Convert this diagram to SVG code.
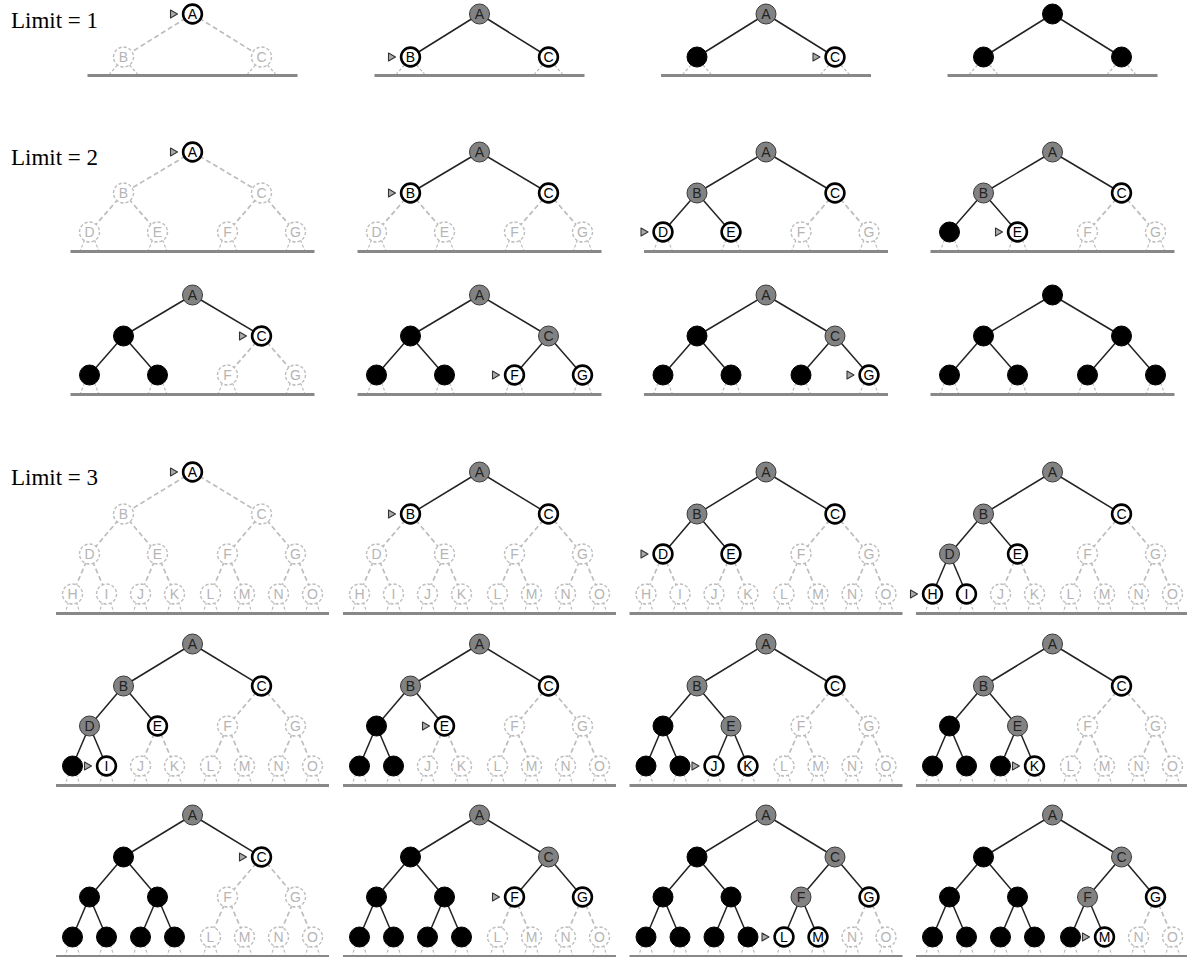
<svg xmlns="http://www.w3.org/2000/svg" xmlns:xlink="http://www.w3.org/1999/xlink" width="1187" height="957" viewBox="0 0 1187 957">
<style>
.lbl{font-family:"Liberation Serif","Times New Roman",serif;font-size:23px;fill:#000}
.n text{font-family:"Liberation Sans",Arial,sans-serif;font-size:14px;text-anchor:middle;dominant-baseline:central}
.u circle{fill:#fff;stroke:#bdbdbd;stroke-width:1.4;stroke-dasharray:3.2 2}
.u text{fill:#b5b5b5}
.f circle{fill:#fff;stroke:#000;stroke-width:2.6;r:9.4px}
.f text{fill:#000}
.g circle{fill:#828282;stroke:#3a3a3a;stroke-width:1}
.g text{fill:#222}
.b circle{fill:#000;stroke:#000;stroke-width:1}
.s{stroke:#222;stroke-width:1.5}
.d{stroke:#bdbdbd;stroke-width:1.7;stroke-dasharray:5 3}
.base{stroke:#888;stroke-width:3}
.stub{fill:none;stroke:#bdbdbd;stroke-width:1.2;stroke-dasharray:3 2}
.mk{fill:#aaa;stroke:#333;stroke-width:1.1;stroke-linejoin:round}
</style>
<defs>
<g id="gr1">
<path class="stub" d="M-75,51L-83,60M-63,51L-55,60M63,51L55,60M75,51L83,60"/>
<line class="base" x1="-105" y1="61.5" x2="105" y2="61.5"/>
</g>
<g id="gr2">
<path class="stub" d="M-108,88L-112,98M-98,88L-94,98M-40,88L-44,98M-30,88L-26,98M30,88L26,98M40,88L44,98M98,88L94,98M108,88L112,98"/>
<line class="base" x1="-122" y1="99.5" x2="122" y2="99.5"/>
</g>
<g id="gr3">
<path class="stub" d="M-124,130L-127,140M-116,130L-113,140M-90,130L-93,140M-82,130L-79,140M-56,130L-59,140M-48,130L-45,140M-22,130L-25,140M-14,130L-11,140M14,130L11,140M22,130L25,140M48,130L45,140M56,130L59,140M82,130L79,140M90,130L93,140M116,130L113,140M124,130L127,140"/>
<line class="base" x1="-136.5" y1="141.5" x2="136.5" y2="141.5"/>
</g>
</defs>

<text class="lbl" x="11" y="28">Limit = 1</text>
<text class="lbl" x="11" y="165">Limit = 2</text>
<text class="lbl" x="11" y="485">Limit = 3</text>

<!-- ===== Limit 1 ===== -->
<g id="l1p1" transform="translate(192.5,14)">
<use href="#gr1"/>
<g class="connectors">
<line class="d" x1="0" y1="0" x2="-69" y2="43"/>
<line class="d" x1="0" y1="0" x2="69" y2="43"/>
</g>
<g id="l1p1-A" class="n f"><circle r="10"/><text>A</text><polygon class="mk" points="-22,-4 -15,0 -22,4"/></g>
<g id="l1p1-B" class="n u" transform="translate(-69,43)"><circle r="10"/><text>B</text></g>
<g id="l1p1-C" class="n u" transform="translate(69,43)"><circle r="10"/><text>C</text></g>
</g>

<g id="l1p2" transform="translate(479.5,14)">
<use href="#gr1"/>
<g class="connectors">
<line class="s" x1="0" y1="0" x2="-69" y2="43"/>
<line class="s" x1="0" y1="0" x2="69" y2="43"/>
</g>
<g id="l1p2-A" class="n g"><circle r="10"/><text>A</text></g>
<g id="l1p2-B" class="n f" transform="translate(-69,43)"><circle r="10"/><text>B</text><polygon class="mk" points="-22,-4 -15,0 -22,4"/></g>
<g id="l1p2-C" class="n f" transform="translate(69,43)"><circle r="10"/><text>C</text></g>
</g>

<g id="l1p3" transform="translate(766,14)">
<use href="#gr1"/>
<g class="connectors">
<line class="s" x1="0" y1="0" x2="-69" y2="43"/>
<line class="s" x1="0" y1="0" x2="69" y2="43"/>
</g>
<g id="l1p3-A" class="n g"><circle r="10"/><text>A</text></g>
<g id="l1p3-B" class="n b" transform="translate(-69,43)"><circle r="10"/></g>
<g id="l1p3-C" class="n f" transform="translate(69,43)"><circle r="10"/><text>C</text><polygon class="mk" points="-22,-4 -15,0 -22,4"/></g>
</g>

<g id="l1p4" transform="translate(1052.5,14)">
<use href="#gr1"/>
<g class="connectors">
<line class="s" x1="0" y1="0" x2="-69" y2="43"/>
<line class="s" x1="0" y1="0" x2="69" y2="43"/>
</g>
<g id="l1p4-A" class="n b"><circle r="10"/></g>
<g id="l1p4-B" class="n b" transform="translate(-69,43)"><circle r="10"/></g>
<g id="l1p4-C" class="n b" transform="translate(69,43)"><circle r="10"/></g>
</g>

<!-- ===== Limit 2, row 1 ===== -->
<g id="l2r1p1" transform="translate(192.5,152)">
<use href="#gr2"/>
<g class="connectors">
<line class="d" x1="0" y1="0" x2="-69" y2="41"/>
<line class="d" x1="0" y1="0" x2="69" y2="41"/>
<line class="d" x1="-69" y1="41" x2="-103" y2="80"/>
<line class="d" x1="-69" y1="41" x2="-35" y2="80"/>
<line class="d" x1="69" y1="41" x2="35" y2="80"/>
<line class="d" x1="69" y1="41" x2="103" y2="80"/>
</g>
<g id="l2r1p1-A" class="n f"><circle r="10"/><text>A</text><polygon class="mk" points="-22,-4 -15,0 -22,4"/></g>
<g id="l2r1p1-B" class="n u" transform="translate(-69,41)"><circle r="10"/><text>B</text></g>
<g id="l2r1p1-C" class="n u" transform="translate(69,41)"><circle r="10"/><text>C</text></g>
<g id="l2r1p1-D" class="n u" transform="translate(-103,80)"><circle r="10"/><text>D</text></g>
<g id="l2r1p1-E" class="n u" transform="translate(-35,80)"><circle r="10"/><text>E</text></g>
<g id="l2r1p1-F" class="n u" transform="translate(35,80)"><circle r="10"/><text>F</text></g>
<g id="l2r1p1-G" class="n u" transform="translate(103,80)"><circle r="10"/><text>G</text></g>
</g>

<g id="l2r1p2" transform="translate(479.5,152)">
<use href="#gr2"/>
<g class="connectors">
<line class="s" x1="0" y1="0" x2="-69" y2="41"/>
<line class="s" x1="0" y1="0" x2="69" y2="41"/>
<line class="d" x1="-69" y1="41" x2="-103" y2="80"/>
<line class="d" x1="-69" y1="41" x2="-35" y2="80"/>
<line class="d" x1="69" y1="41" x2="35" y2="80"/>
<line class="d" x1="69" y1="41" x2="103" y2="80"/>
</g>
<g id="l2r1p2-A" class="n g"><circle r="10"/><text>A</text></g>
<g id="l2r1p2-B" class="n f" transform="translate(-69,41)"><circle r="10"/><text>B</text><polygon class="mk" points="-22,-4 -15,0 -22,4"/></g>
<g id="l2r1p2-C" class="n f" transform="translate(69,41)"><circle r="10"/><text>C</text></g>
<g id="l2r1p2-D" class="n u" transform="translate(-103,80)"><circle r="10"/><text>D</text></g>
<g id="l2r1p2-E" class="n u" transform="translate(-35,80)"><circle r="10"/><text>E</text></g>
<g id="l2r1p2-F" class="n u" transform="translate(35,80)"><circle r="10"/><text>F</text></g>
<g id="l2r1p2-G" class="n u" transform="translate(103,80)"><circle r="10"/><text>G</text></g>
</g>

<g id="l2r1p3" transform="translate(766,152)">
<use href="#gr2"/>
<g class="connectors">
<line class="s" x1="0" y1="0" x2="-69" y2="41"/>
<line class="s" x1="0" y1="0" x2="69" y2="41"/>
<line class="s" x1="-69" y1="41" x2="-103" y2="80"/>
<line class="s" x1="-69" y1="41" x2="-35" y2="80"/>
<line class="d" x1="69" y1="41" x2="35" y2="80"/>
<line class="d" x1="69" y1="41" x2="103" y2="80"/>
</g>
<g id="l2r1p3-A" class="n g"><circle r="10"/><text>A</text></g>
<g id="l2r1p3-B" class="n g" transform="translate(-69,41)"><circle r="10"/><text>B</text></g>
<g id="l2r1p3-C" class="n f" transform="translate(69,41)"><circle r="10"/><text>C</text></g>
<g id="l2r1p3-D" class="n f" transform="translate(-103,80)"><circle r="10"/><text>D</text><polygon class="mk" points="-22,-4 -15,0 -22,4"/></g>
<g id="l2r1p3-E" class="n f" transform="translate(-35,80)"><circle r="10"/><text>E</text></g>
<g id="l2r1p3-F" class="n u" transform="translate(35,80)"><circle r="10"/><text>F</text></g>
<g id="l2r1p3-G" class="n u" transform="translate(103,80)"><circle r="10"/><text>G</text></g>
</g>

<g id="l2r1p4" transform="translate(1052.5,152)">
<use href="#gr2"/>
<g class="connectors">
<line class="s" x1="0" y1="0" x2="-69" y2="41"/>
<line class="s" x1="0" y1="0" x2="69" y2="41"/>
<line class="s" x1="-69" y1="41" x2="-103" y2="80"/>
<line class="s" x1="-69" y1="41" x2="-35" y2="80"/>
<line class="d" x1="69" y1="41" x2="35" y2="80"/>
<line class="d" x1="69" y1="41" x2="103" y2="80"/>
</g>
<g id="l2r1p4-A" class="n g"><circle r="10"/><text>A</text></g>
<g id="l2r1p4-B" class="n g" transform="translate(-69,41)"><circle r="10"/><text>B</text></g>
<g id="l2r1p4-C" class="n f" transform="translate(69,41)"><circle r="10"/><text>C</text></g>
<g id="l2r1p4-D" class="n b" transform="translate(-103,80)"><circle r="10"/></g>
<g id="l2r1p4-E" class="n f" transform="translate(-35,80)"><circle r="10"/><text>E</text><polygon class="mk" points="-22,-4 -15,0 -22,4"/></g>
<g id="l2r1p4-F" class="n u" transform="translate(35,80)"><circle r="10"/><text>F</text></g>
<g id="l2r1p4-G" class="n u" transform="translate(103,80)"><circle r="10"/><text>G</text></g>
</g>

<!-- ===== Limit 2, row 2 ===== -->
<g id="l2r2p1" transform="translate(192.5,295)">
<use href="#gr2"/>
<g class="connectors">
<line class="s" x1="0" y1="0" x2="-69" y2="41"/>
<line class="s" x1="0" y1="0" x2="69" y2="41"/>
<line class="s" x1="-69" y1="41" x2="-103" y2="80"/>
<line class="s" x1="-69" y1="41" x2="-35" y2="80"/>
<line class="d" x1="69" y1="41" x2="35" y2="80"/>
<line class="d" x1="69" y1="41" x2="103" y2="80"/>
</g>
<g id="l2r2p1-A" class="n g"><circle r="10"/><text>A</text></g>
<g id="l2r2p1-B" class="n b" transform="translate(-69,41)"><circle r="10"/></g>
<g id="l2r2p1-C" class="n f" transform="translate(69,41)"><circle r="10"/><text>C</text><polygon class="mk" points="-22,-4 -15,0 -22,4"/></g>
<g id="l2r2p1-D" class="n b" transform="translate(-103,80)"><circle r="10"/></g>
<g id="l2r2p1-E" class="n b" transform="translate(-35,80)"><circle r="10"/></g>
<g id="l2r2p1-F" class="n u" transform="translate(35,80)"><circle r="10"/><text>F</text></g>
<g id="l2r2p1-G" class="n u" transform="translate(103,80)"><circle r="10"/><text>G</text></g>
</g>

<g id="l2r2p2" transform="translate(479.5,295)">
<use href="#gr2"/>
<g class="connectors">
<line class="s" x1="0" y1="0" x2="-69" y2="41"/>
<line class="s" x1="0" y1="0" x2="69" y2="41"/>
<line class="s" x1="-69" y1="41" x2="-103" y2="80"/>
<line class="s" x1="-69" y1="41" x2="-35" y2="80"/>
<line class="s" x1="69" y1="41" x2="35" y2="80"/>
<line class="s" x1="69" y1="41" x2="103" y2="80"/>
</g>
<g id="l2r2p2-A" class="n g"><circle r="10"/><text>A</text></g>
<g id="l2r2p2-B" class="n b" transform="translate(-69,41)"><circle r="10"/></g>
<g id="l2r2p2-C" class="n g" transform="translate(69,41)"><circle r="10"/><text>C</text></g>
<g id="l2r2p2-D" class="n b" transform="translate(-103,80)"><circle r="10"/></g>
<g id="l2r2p2-E" class="n b" transform="translate(-35,80)"><circle r="10"/></g>
<g id="l2r2p2-F" class="n f" transform="translate(35,80)"><circle r="10"/><text>F</text><polygon class="mk" points="-22,-4 -15,0 -22,4"/></g>
<g id="l2r2p2-G" class="n f" transform="translate(103,80)"><circle r="10"/><text>G</text></g>
</g>

<g id="l2r2p3" transform="translate(766,295)">
<use href="#gr2"/>
<g class="connectors">
<line class="s" x1="0" y1="0" x2="-69" y2="41"/>
<line class="s" x1="0" y1="0" x2="69" y2="41"/>
<line class="s" x1="-69" y1="41" x2="-103" y2="80"/>
<line class="s" x1="-69" y1="41" x2="-35" y2="80"/>
<line class="s" x1="69" y1="41" x2="35" y2="80"/>
<line class="s" x1="69" y1="41" x2="103" y2="80"/>
</g>
<g id="l2r2p3-A" class="n g"><circle r="10"/><text>A</text></g>
<g id="l2r2p3-B" class="n b" transform="translate(-69,41)"><circle r="10"/></g>
<g id="l2r2p3-C" class="n g" transform="translate(69,41)"><circle r="10"/><text>C</text></g>
<g id="l2r2p3-D" class="n b" transform="translate(-103,80)"><circle r="10"/></g>
<g id="l2r2p3-E" class="n b" transform="translate(-35,80)"><circle r="10"/></g>
<g id="l2r2p3-F" class="n b" transform="translate(35,80)"><circle r="10"/></g>
<g id="l2r2p3-G" class="n f" transform="translate(103,80)"><circle r="10"/><text>G</text><polygon class="mk" points="-22,-4 -15,0 -22,4"/></g>
</g>

<g id="l2r2p4" transform="translate(1052.5,295)">
<use href="#gr2"/>
<g class="connectors">
<line class="s" x1="0" y1="0" x2="-69" y2="41"/>
<line class="s" x1="0" y1="0" x2="69" y2="41"/>
<line class="s" x1="-69" y1="41" x2="-103" y2="80"/>
<line class="s" x1="-69" y1="41" x2="-35" y2="80"/>
<line class="s" x1="69" y1="41" x2="35" y2="80"/>
<line class="s" x1="69" y1="41" x2="103" y2="80"/>
</g>
<g id="l2r2p4-A" class="n b"><circle r="10"/></g>
<g id="l2r2p4-B" class="n b" transform="translate(-69,41)"><circle r="10"/></g>
<g id="l2r2p4-C" class="n b" transform="translate(69,41)"><circle r="10"/></g>
<g id="l2r2p4-D" class="n b" transform="translate(-103,80)"><circle r="10"/></g>
<g id="l2r2p4-E" class="n b" transform="translate(-35,80)"><circle r="10"/></g>
<g id="l2r2p4-F" class="n b" transform="translate(35,80)"><circle r="10"/></g>
<g id="l2r2p4-G" class="n b" transform="translate(103,80)"><circle r="10"/></g>
</g>

<!-- ===== Limit 3, row 1 ===== -->
<g id="l3r1p1" transform="translate(192.5,472)">
<use href="#gr3"/>
<g class="connectors">
<line class="d" x1="0" y1="0" x2="-69" y2="42"/>
<line class="d" x1="0" y1="0" x2="69" y2="42"/>
<line class="d" x1="-69" y1="42" x2="-103" y2="82"/>
<line class="d" x1="-69" y1="42" x2="-35" y2="82"/>
<line class="d" x1="69" y1="42" x2="35" y2="82"/>
<line class="d" x1="69" y1="42" x2="103" y2="82"/>
<line class="d" x1="-103" y1="82" x2="-120" y2="122"/>
<line class="d" x1="-103" y1="82" x2="-86" y2="122"/>
<line class="d" x1="-35" y1="82" x2="-52" y2="122"/>
<line class="d" x1="-35" y1="82" x2="-18" y2="122"/>
<line class="d" x1="35" y1="82" x2="18" y2="122"/>
<line class="d" x1="35" y1="82" x2="52" y2="122"/>
<line class="d" x1="103" y1="82" x2="86" y2="122"/>
<line class="d" x1="103" y1="82" x2="120" y2="122"/>
</g>
<g id="l3r1p1-A" class="n f"><circle r="10"/><text>A</text><polygon class="mk" points="-22,-4 -15,0 -22,4"/></g>
<g id="l3r1p1-B" class="n u" transform="translate(-69,42)"><circle r="10"/><text>B</text></g>
<g id="l3r1p1-C" class="n u" transform="translate(69,42)"><circle r="10"/><text>C</text></g>
<g id="l3r1p1-D" class="n u" transform="translate(-103,82)"><circle r="10"/><text>D</text></g>
<g id="l3r1p1-E" class="n u" transform="translate(-35,82)"><circle r="10"/><text>E</text></g>
<g id="l3r1p1-F" class="n u" transform="translate(35,82)"><circle r="10"/><text>F</text></g>
<g id="l3r1p1-G" class="n u" transform="translate(103,82)"><circle r="10"/><text>G</text></g>
<g id="l3r1p1-H" class="n u" transform="translate(-120,122)"><circle r="10"/><text>H</text></g>
<g id="l3r1p1-I" class="n u" transform="translate(-86,122)"><circle r="10"/><text>I</text></g>
<g id="l3r1p1-J" class="n u" transform="translate(-52,122)"><circle r="10"/><text>J</text></g>
<g id="l3r1p1-K" class="n u" transform="translate(-18,122)"><circle r="10"/><text>K</text></g>
<g id="l3r1p1-L" class="n u" transform="translate(18,122)"><circle r="10"/><text>L</text></g>
<g id="l3r1p1-M" class="n u" transform="translate(52,122)"><circle r="10"/><text>M</text></g>
<g id="l3r1p1-N" class="n u" transform="translate(86,122)"><circle r="10"/><text>N</text></g>
<g id="l3r1p1-O" class="n u" transform="translate(120,122)"><circle r="10"/><text>O</text></g>
</g>

<g id="l3r1p2" transform="translate(479.5,472)">
<use href="#gr3"/>
<g class="connectors">
<line class="s" x1="0" y1="0" x2="-69" y2="42"/>
<line class="s" x1="0" y1="0" x2="69" y2="42"/>
<line class="d" x1="-69" y1="42" x2="-103" y2="82"/>
<line class="d" x1="-69" y1="42" x2="-35" y2="82"/>
<line class="d" x1="69" y1="42" x2="35" y2="82"/>
<line class="d" x1="69" y1="42" x2="103" y2="82"/>
<line class="d" x1="-103" y1="82" x2="-120" y2="122"/>
<line class="d" x1="-103" y1="82" x2="-86" y2="122"/>
<line class="d" x1="-35" y1="82" x2="-52" y2="122"/>
<line class="d" x1="-35" y1="82" x2="-18" y2="122"/>
<line class="d" x1="35" y1="82" x2="18" y2="122"/>
<line class="d" x1="35" y1="82" x2="52" y2="122"/>
<line class="d" x1="103" y1="82" x2="86" y2="122"/>
<line class="d" x1="103" y1="82" x2="120" y2="122"/>
</g>
<g id="l3r1p2-A" class="n g"><circle r="10"/><text>A</text></g>
<g id="l3r1p2-B" class="n f" transform="translate(-69,42)"><circle r="10"/><text>B</text><polygon class="mk" points="-22,-4 -15,0 -22,4"/></g>
<g id="l3r1p2-C" class="n f" transform="translate(69,42)"><circle r="10"/><text>C</text></g>
<g id="l3r1p2-D" class="n u" transform="translate(-103,82)"><circle r="10"/><text>D</text></g>
<g id="l3r1p2-E" class="n u" transform="translate(-35,82)"><circle r="10"/><text>E</text></g>
<g id="l3r1p2-F" class="n u" transform="translate(35,82)"><circle r="10"/><text>F</text></g>
<g id="l3r1p2-G" class="n u" transform="translate(103,82)"><circle r="10"/><text>G</text></g>
<g id="l3r1p2-H" class="n u" transform="translate(-120,122)"><circle r="10"/><text>H</text></g>
<g id="l3r1p2-I" class="n u" transform="translate(-86,122)"><circle r="10"/><text>I</text></g>
<g id="l3r1p2-J" class="n u" transform="translate(-52,122)"><circle r="10"/><text>J</text></g>
<g id="l3r1p2-K" class="n u" transform="translate(-18,122)"><circle r="10"/><text>K</text></g>
<g id="l3r1p2-L" class="n u" transform="translate(18,122)"><circle r="10"/><text>L</text></g>
<g id="l3r1p2-M" class="n u" transform="translate(52,122)"><circle r="10"/><text>M</text></g>
<g id="l3r1p2-N" class="n u" transform="translate(86,122)"><circle r="10"/><text>N</text></g>
<g id="l3r1p2-O" class="n u" transform="translate(120,122)"><circle r="10"/><text>O</text></g>
</g>

<g id="l3r1p3" transform="translate(766,472)">
<use href="#gr3"/>
<g class="connectors">
<line class="s" x1="0" y1="0" x2="-69" y2="42"/>
<line class="s" x1="0" y1="0" x2="69" y2="42"/>
<line class="s" x1="-69" y1="42" x2="-103" y2="82"/>
<line class="s" x1="-69" y1="42" x2="-35" y2="82"/>
<line class="d" x1="69" y1="42" x2="35" y2="82"/>
<line class="d" x1="69" y1="42" x2="103" y2="82"/>
<line class="d" x1="-103" y1="82" x2="-120" y2="122"/>
<line class="d" x1="-103" y1="82" x2="-86" y2="122"/>
<line class="d" x1="-35" y1="82" x2="-52" y2="122"/>
<line class="d" x1="-35" y1="82" x2="-18" y2="122"/>
<line class="d" x1="35" y1="82" x2="18" y2="122"/>
<line class="d" x1="35" y1="82" x2="52" y2="122"/>
<line class="d" x1="103" y1="82" x2="86" y2="122"/>
<line class="d" x1="103" y1="82" x2="120" y2="122"/>
</g>
<g id="l3r1p3-A" class="n g"><circle r="10"/><text>A</text></g>
<g id="l3r1p3-B" class="n g" transform="translate(-69,42)"><circle r="10"/><text>B</text></g>
<g id="l3r1p3-C" class="n f" transform="translate(69,42)"><circle r="10"/><text>C</text></g>
<g id="l3r1p3-D" class="n f" transform="translate(-103,82)"><circle r="10"/><text>D</text><polygon class="mk" points="-22,-4 -15,0 -22,4"/></g>
<g id="l3r1p3-E" class="n f" transform="translate(-35,82)"><circle r="10"/><text>E</text></g>
<g id="l3r1p3-F" class="n u" transform="translate(35,82)"><circle r="10"/><text>F</text></g>
<g id="l3r1p3-G" class="n u" transform="translate(103,82)"><circle r="10"/><text>G</text></g>
<g id="l3r1p3-H" class="n u" transform="translate(-120,122)"><circle r="10"/><text>H</text></g>
<g id="l3r1p3-I" class="n u" transform="translate(-86,122)"><circle r="10"/><text>I</text></g>
<g id="l3r1p3-J" class="n u" transform="translate(-52,122)"><circle r="10"/><text>J</text></g>
<g id="l3r1p3-K" class="n u" transform="translate(-18,122)"><circle r="10"/><text>K</text></g>
<g id="l3r1p3-L" class="n u" transform="translate(18,122)"><circle r="10"/><text>L</text></g>
<g id="l3r1p3-M" class="n u" transform="translate(52,122)"><circle r="10"/><text>M</text></g>
<g id="l3r1p3-N" class="n u" transform="translate(86,122)"><circle r="10"/><text>N</text></g>
<g id="l3r1p3-O" class="n u" transform="translate(120,122)"><circle r="10"/><text>O</text></g>
</g>

<g id="l3r1p4" transform="translate(1052.5,472)">
<use href="#gr3"/>
<g class="connectors">
<line class="s" x1="0" y1="0" x2="-69" y2="42"/>
<line class="s" x1="0" y1="0" x2="69" y2="42"/>
<line class="s" x1="-69" y1="42" x2="-103" y2="82"/>
<line class="s" x1="-69" y1="42" x2="-35" y2="82"/>
<line class="d" x1="69" y1="42" x2="35" y2="82"/>
<line class="d" x1="69" y1="42" x2="103" y2="82"/>
<line class="s" x1="-103" y1="82" x2="-120" y2="122"/>
<line class="s" x1="-103" y1="82" x2="-86" y2="122"/>
<line class="d" x1="-35" y1="82" x2="-52" y2="122"/>
<line class="d" x1="-35" y1="82" x2="-18" y2="122"/>
<line class="d" x1="35" y1="82" x2="18" y2="122"/>
<line class="d" x1="35" y1="82" x2="52" y2="122"/>
<line class="d" x1="103" y1="82" x2="86" y2="122"/>
<line class="d" x1="103" y1="82" x2="120" y2="122"/>
</g>
<g id="l3r1p4-A" class="n g"><circle r="10"/><text>A</text></g>
<g id="l3r1p4-B" class="n g" transform="translate(-69,42)"><circle r="10"/><text>B</text></g>
<g id="l3r1p4-C" class="n f" transform="translate(69,42)"><circle r="10"/><text>C</text></g>
<g id="l3r1p4-D" class="n g" transform="translate(-103,82)"><circle r="10"/><text>D</text></g>
<g id="l3r1p4-E" class="n f" transform="translate(-35,82)"><circle r="10"/><text>E</text></g>
<g id="l3r1p4-F" class="n u" transform="translate(35,82)"><circle r="10"/><text>F</text></g>
<g id="l3r1p4-G" class="n u" transform="translate(103,82)"><circle r="10"/><text>G</text></g>
<g id="l3r1p4-H" class="n f" transform="translate(-120,122)"><circle r="10"/><text>H</text><polygon class="mk" points="-22,-4 -15,0 -22,4"/></g>
<g id="l3r1p4-I" class="n f" transform="translate(-86,122)"><circle r="10"/><text>I</text></g>
<g id="l3r1p4-J" class="n u" transform="translate(-52,122)"><circle r="10"/><text>J</text></g>
<g id="l3r1p4-K" class="n u" transform="translate(-18,122)"><circle r="10"/><text>K</text></g>
<g id="l3r1p4-L" class="n u" transform="translate(18,122)"><circle r="10"/><text>L</text></g>
<g id="l3r1p4-M" class="n u" transform="translate(52,122)"><circle r="10"/><text>M</text></g>
<g id="l3r1p4-N" class="n u" transform="translate(86,122)"><circle r="10"/><text>N</text></g>
<g id="l3r1p4-O" class="n u" transform="translate(120,122)"><circle r="10"/><text>O</text></g>
</g>

<!-- ===== Limit 3, row 2 ===== -->
<g id="l3r2p1" transform="translate(192.5,644)">
<use href="#gr3"/>
<g class="connectors">
<line class="s" x1="0" y1="0" x2="-69" y2="42"/>
<line class="s" x1="0" y1="0" x2="69" y2="42"/>
<line class="s" x1="-69" y1="42" x2="-103" y2="82"/>
<line class="s" x1="-69" y1="42" x2="-35" y2="82"/>
<line class="d" x1="69" y1="42" x2="35" y2="82"/>
<line class="d" x1="69" y1="42" x2="103" y2="82"/>
<line class="s" x1="-103" y1="82" x2="-120" y2="122"/>
<line class="s" x1="-103" y1="82" x2="-86" y2="122"/>
<line class="d" x1="-35" y1="82" x2="-52" y2="122"/>
<line class="d" x1="-35" y1="82" x2="-18" y2="122"/>
<line class="d" x1="35" y1="82" x2="18" y2="122"/>
<line class="d" x1="35" y1="82" x2="52" y2="122"/>
<line class="d" x1="103" y1="82" x2="86" y2="122"/>
<line class="d" x1="103" y1="82" x2="120" y2="122"/>
</g>
<g id="l3r2p1-A" class="n g"><circle r="10"/><text>A</text></g>
<g id="l3r2p1-B" class="n g" transform="translate(-69,42)"><circle r="10"/><text>B</text></g>
<g id="l3r2p1-C" class="n f" transform="translate(69,42)"><circle r="10"/><text>C</text></g>
<g id="l3r2p1-D" class="n g" transform="translate(-103,82)"><circle r="10"/><text>D</text></g>
<g id="l3r2p1-E" class="n f" transform="translate(-35,82)"><circle r="10"/><text>E</text></g>
<g id="l3r2p1-F" class="n u" transform="translate(35,82)"><circle r="10"/><text>F</text></g>
<g id="l3r2p1-G" class="n u" transform="translate(103,82)"><circle r="10"/><text>G</text></g>
<g id="l3r2p1-H" class="n b" transform="translate(-120,122)"><circle r="10"/></g>
<g id="l3r2p1-I" class="n f" transform="translate(-86,122)"><circle r="10"/><text>I</text><polygon class="mk" points="-22,-4 -15,0 -22,4"/></g>
<g id="l3r2p1-J" class="n u" transform="translate(-52,122)"><circle r="10"/><text>J</text></g>
<g id="l3r2p1-K" class="n u" transform="translate(-18,122)"><circle r="10"/><text>K</text></g>
<g id="l3r2p1-L" class="n u" transform="translate(18,122)"><circle r="10"/><text>L</text></g>
<g id="l3r2p1-M" class="n u" transform="translate(52,122)"><circle r="10"/><text>M</text></g>
<g id="l3r2p1-N" class="n u" transform="translate(86,122)"><circle r="10"/><text>N</text></g>
<g id="l3r2p1-O" class="n u" transform="translate(120,122)"><circle r="10"/><text>O</text></g>
</g>

<g id="l3r2p2" transform="translate(479.5,644)">
<use href="#gr3"/>
<g class="connectors">
<line class="s" x1="0" y1="0" x2="-69" y2="42"/>
<line class="s" x1="0" y1="0" x2="69" y2="42"/>
<line class="s" x1="-69" y1="42" x2="-103" y2="82"/>
<line class="s" x1="-69" y1="42" x2="-35" y2="82"/>
<line class="d" x1="69" y1="42" x2="35" y2="82"/>
<line class="d" x1="69" y1="42" x2="103" y2="82"/>
<line class="s" x1="-103" y1="82" x2="-120" y2="122"/>
<line class="s" x1="-103" y1="82" x2="-86" y2="122"/>
<line class="d" x1="-35" y1="82" x2="-52" y2="122"/>
<line class="d" x1="-35" y1="82" x2="-18" y2="122"/>
<line class="d" x1="35" y1="82" x2="18" y2="122"/>
<line class="d" x1="35" y1="82" x2="52" y2="122"/>
<line class="d" x1="103" y1="82" x2="86" y2="122"/>
<line class="d" x1="103" y1="82" x2="120" y2="122"/>
</g>
<g id="l3r2p2-A" class="n g"><circle r="10"/><text>A</text></g>
<g id="l3r2p2-B" class="n g" transform="translate(-69,42)"><circle r="10"/><text>B</text></g>
<g id="l3r2p2-C" class="n f" transform="translate(69,42)"><circle r="10"/><text>C</text></g>
<g id="l3r2p2-D" class="n b" transform="translate(-103,82)"><circle r="10"/></g>
<g id="l3r2p2-E" class="n f" transform="translate(-35,82)"><circle r="10"/><text>E</text><polygon class="mk" points="-22,-4 -15,0 -22,4"/></g>
<g id="l3r2p2-F" class="n u" transform="translate(35,82)"><circle r="10"/><text>F</text></g>
<g id="l3r2p2-G" class="n u" transform="translate(103,82)"><circle r="10"/><text>G</text></g>
<g id="l3r2p2-H" class="n b" transform="translate(-120,122)"><circle r="10"/></g>
<g id="l3r2p2-I" class="n b" transform="translate(-86,122)"><circle r="10"/></g>
<g id="l3r2p2-J" class="n u" transform="translate(-52,122)"><circle r="10"/><text>J</text></g>
<g id="l3r2p2-K" class="n u" transform="translate(-18,122)"><circle r="10"/><text>K</text></g>
<g id="l3r2p2-L" class="n u" transform="translate(18,122)"><circle r="10"/><text>L</text></g>
<g id="l3r2p2-M" class="n u" transform="translate(52,122)"><circle r="10"/><text>M</text></g>
<g id="l3r2p2-N" class="n u" transform="translate(86,122)"><circle r="10"/><text>N</text></g>
<g id="l3r2p2-O" class="n u" transform="translate(120,122)"><circle r="10"/><text>O</text></g>
</g>

<g id="l3r2p3" transform="translate(766,644)">
<use href="#gr3"/>
<g class="connectors">
<line class="s" x1="0" y1="0" x2="-69" y2="42"/>
<line class="s" x1="0" y1="0" x2="69" y2="42"/>
<line class="s" x1="-69" y1="42" x2="-103" y2="82"/>
<line class="s" x1="-69" y1="42" x2="-35" y2="82"/>
<line class="d" x1="69" y1="42" x2="35" y2="82"/>
<line class="d" x1="69" y1="42" x2="103" y2="82"/>
<line class="s" x1="-103" y1="82" x2="-120" y2="122"/>
<line class="s" x1="-103" y1="82" x2="-86" y2="122"/>
<line class="s" x1="-35" y1="82" x2="-52" y2="122"/>
<line class="s" x1="-35" y1="82" x2="-18" y2="122"/>
<line class="d" x1="35" y1="82" x2="18" y2="122"/>
<line class="d" x1="35" y1="82" x2="52" y2="122"/>
<line class="d" x1="103" y1="82" x2="86" y2="122"/>
<line class="d" x1="103" y1="82" x2="120" y2="122"/>
</g>
<g id="l3r2p3-A" class="n g"><circle r="10"/><text>A</text></g>
<g id="l3r2p3-B" class="n g" transform="translate(-69,42)"><circle r="10"/><text>B</text></g>
<g id="l3r2p3-C" class="n f" transform="translate(69,42)"><circle r="10"/><text>C</text></g>
<g id="l3r2p3-D" class="n b" transform="translate(-103,82)"><circle r="10"/></g>
<g id="l3r2p3-E" class="n g" transform="translate(-35,82)"><circle r="10"/><text>E</text></g>
<g id="l3r2p3-F" class="n u" transform="translate(35,82)"><circle r="10"/><text>F</text></g>
<g id="l3r2p3-G" class="n u" transform="translate(103,82)"><circle r="10"/><text>G</text></g>
<g id="l3r2p3-H" class="n b" transform="translate(-120,122)"><circle r="10"/></g>
<g id="l3r2p3-I" class="n b" transform="translate(-86,122)"><circle r="10"/></g>
<g id="l3r2p3-J" class="n f" transform="translate(-52,122)"><circle r="10"/><text>J</text><polygon class="mk" points="-22,-4 -15,0 -22,4"/></g>
<g id="l3r2p3-K" class="n f" transform="translate(-18,122)"><circle r="10"/><text>K</text></g>
<g id="l3r2p3-L" class="n u" transform="translate(18,122)"><circle r="10"/><text>L</text></g>
<g id="l3r2p3-M" class="n u" transform="translate(52,122)"><circle r="10"/><text>M</text></g>
<g id="l3r2p3-N" class="n u" transform="translate(86,122)"><circle r="10"/><text>N</text></g>
<g id="l3r2p3-O" class="n u" transform="translate(120,122)"><circle r="10"/><text>O</text></g>
</g>

<g id="l3r2p4" transform="translate(1052.5,644)">
<use href="#gr3"/>
<g class="connectors">
<line class="s" x1="0" y1="0" x2="-69" y2="42"/>
<line class="s" x1="0" y1="0" x2="69" y2="42"/>
<line class="s" x1="-69" y1="42" x2="-103" y2="82"/>
<line class="s" x1="-69" y1="42" x2="-35" y2="82"/>
<line class="d" x1="69" y1="42" x2="35" y2="82"/>
<line class="d" x1="69" y1="42" x2="103" y2="82"/>
<line class="s" x1="-103" y1="82" x2="-120" y2="122"/>
<line class="s" x1="-103" y1="82" x2="-86" y2="122"/>
<line class="s" x1="-35" y1="82" x2="-52" y2="122"/>
<line class="s" x1="-35" y1="82" x2="-18" y2="122"/>
<line class="d" x1="35" y1="82" x2="18" y2="122"/>
<line class="d" x1="35" y1="82" x2="52" y2="122"/>
<line class="d" x1="103" y1="82" x2="86" y2="122"/>
<line class="d" x1="103" y1="82" x2="120" y2="122"/>
</g>
<g id="l3r2p4-A" class="n g"><circle r="10"/><text>A</text></g>
<g id="l3r2p4-B" class="n g" transform="translate(-69,42)"><circle r="10"/><text>B</text></g>
<g id="l3r2p4-C" class="n f" transform="translate(69,42)"><circle r="10"/><text>C</text></g>
<g id="l3r2p4-D" class="n b" transform="translate(-103,82)"><circle r="10"/></g>
<g id="l3r2p4-E" class="n g" transform="translate(-35,82)"><circle r="10"/><text>E</text></g>
<g id="l3r2p4-F" class="n u" transform="translate(35,82)"><circle r="10"/><text>F</text></g>
<g id="l3r2p4-G" class="n u" transform="translate(103,82)"><circle r="10"/><text>G</text></g>
<g id="l3r2p4-H" class="n b" transform="translate(-120,122)"><circle r="10"/></g>
<g id="l3r2p4-I" class="n b" transform="translate(-86,122)"><circle r="10"/></g>
<g id="l3r2p4-J" class="n b" transform="translate(-52,122)"><circle r="10"/></g>
<g id="l3r2p4-K" class="n f" transform="translate(-18,122)"><circle r="10"/><text>K</text><polygon class="mk" points="-22,-4 -15,0 -22,4"/></g>
<g id="l3r2p4-L" class="n u" transform="translate(18,122)"><circle r="10"/><text>L</text></g>
<g id="l3r2p4-M" class="n u" transform="translate(52,122)"><circle r="10"/><text>M</text></g>
<g id="l3r2p4-N" class="n u" transform="translate(86,122)"><circle r="10"/><text>N</text></g>
<g id="l3r2p4-O" class="n u" transform="translate(120,122)"><circle r="10"/><text>O</text></g>
</g>

<!-- ===== Limit 3, row 3 ===== -->
<g id="l3r3p1" transform="translate(192.5,815)">
<use href="#gr3"/>
<g class="connectors">
<line class="s" x1="0" y1="0" x2="-69" y2="42"/>
<line class="s" x1="0" y1="0" x2="69" y2="42"/>
<line class="s" x1="-69" y1="42" x2="-103" y2="82"/>
<line class="s" x1="-69" y1="42" x2="-35" y2="82"/>
<line class="d" x1="69" y1="42" x2="35" y2="82"/>
<line class="d" x1="69" y1="42" x2="103" y2="82"/>
<line class="s" x1="-103" y1="82" x2="-120" y2="122"/>
<line class="s" x1="-103" y1="82" x2="-86" y2="122"/>
<line class="s" x1="-35" y1="82" x2="-52" y2="122"/>
<line class="s" x1="-35" y1="82" x2="-18" y2="122"/>
<line class="d" x1="35" y1="82" x2="18" y2="122"/>
<line class="d" x1="35" y1="82" x2="52" y2="122"/>
<line class="d" x1="103" y1="82" x2="86" y2="122"/>
<line class="d" x1="103" y1="82" x2="120" y2="122"/>
</g>
<g id="l3r3p1-A" class="n g"><circle r="10"/><text>A</text></g>
<g id="l3r3p1-B" class="n b" transform="translate(-69,42)"><circle r="10"/></g>
<g id="l3r3p1-C" class="n f" transform="translate(69,42)"><circle r="10"/><text>C</text><polygon class="mk" points="-22,-4 -15,0 -22,4"/></g>
<g id="l3r3p1-D" class="n b" transform="translate(-103,82)"><circle r="10"/></g>
<g id="l3r3p1-E" class="n b" transform="translate(-35,82)"><circle r="10"/></g>
<g id="l3r3p1-F" class="n u" transform="translate(35,82)"><circle r="10"/><text>F</text></g>
<g id="l3r3p1-G" class="n u" transform="translate(103,82)"><circle r="10"/><text>G</text></g>
<g id="l3r3p1-H" class="n b" transform="translate(-120,122)"><circle r="10"/></g>
<g id="l3r3p1-I" class="n b" transform="translate(-86,122)"><circle r="10"/></g>
<g id="l3r3p1-J" class="n b" transform="translate(-52,122)"><circle r="10"/></g>
<g id="l3r3p1-K" class="n b" transform="translate(-18,122)"><circle r="10"/></g>
<g id="l3r3p1-L" class="n u" transform="translate(18,122)"><circle r="10"/><text>L</text></g>
<g id="l3r3p1-M" class="n u" transform="translate(52,122)"><circle r="10"/><text>M</text></g>
<g id="l3r3p1-N" class="n u" transform="translate(86,122)"><circle r="10"/><text>N</text></g>
<g id="l3r3p1-O" class="n u" transform="translate(120,122)"><circle r="10"/><text>O</text></g>
</g>

<g id="l3r3p2" transform="translate(479.5,815)">
<use href="#gr3"/>
<g class="connectors">
<line class="s" x1="0" y1="0" x2="-69" y2="42"/>
<line class="s" x1="0" y1="0" x2="69" y2="42"/>
<line class="s" x1="-69" y1="42" x2="-103" y2="82"/>
<line class="s" x1="-69" y1="42" x2="-35" y2="82"/>
<line class="s" x1="69" y1="42" x2="35" y2="82"/>
<line class="s" x1="69" y1="42" x2="103" y2="82"/>
<line class="s" x1="-103" y1="82" x2="-120" y2="122"/>
<line class="s" x1="-103" y1="82" x2="-86" y2="122"/>
<line class="s" x1="-35" y1="82" x2="-52" y2="122"/>
<line class="s" x1="-35" y1="82" x2="-18" y2="122"/>
<line class="d" x1="35" y1="82" x2="18" y2="122"/>
<line class="d" x1="35" y1="82" x2="52" y2="122"/>
<line class="d" x1="103" y1="82" x2="86" y2="122"/>
<line class="d" x1="103" y1="82" x2="120" y2="122"/>
</g>
<g id="l3r3p2-A" class="n g"><circle r="10"/><text>A</text></g>
<g id="l3r3p2-B" class="n b" transform="translate(-69,42)"><circle r="10"/></g>
<g id="l3r3p2-C" class="n g" transform="translate(69,42)"><circle r="10"/><text>C</text></g>
<g id="l3r3p2-D" class="n b" transform="translate(-103,82)"><circle r="10"/></g>
<g id="l3r3p2-E" class="n b" transform="translate(-35,82)"><circle r="10"/></g>
<g id="l3r3p2-F" class="n f" transform="translate(35,82)"><circle r="10"/><text>F</text><polygon class="mk" points="-22,-4 -15,0 -22,4"/></g>
<g id="l3r3p2-G" class="n f" transform="translate(103,82)"><circle r="10"/><text>G</text></g>
<g id="l3r3p2-H" class="n b" transform="translate(-120,122)"><circle r="10"/></g>
<g id="l3r3p2-I" class="n b" transform="translate(-86,122)"><circle r="10"/></g>
<g id="l3r3p2-J" class="n b" transform="translate(-52,122)"><circle r="10"/></g>
<g id="l3r3p2-K" class="n b" transform="translate(-18,122)"><circle r="10"/></g>
<g id="l3r3p2-L" class="n u" transform="translate(18,122)"><circle r="10"/><text>L</text></g>
<g id="l3r3p2-M" class="n u" transform="translate(52,122)"><circle r="10"/><text>M</text></g>
<g id="l3r3p2-N" class="n u" transform="translate(86,122)"><circle r="10"/><text>N</text></g>
<g id="l3r3p2-O" class="n u" transform="translate(120,122)"><circle r="10"/><text>O</text></g>
</g>

<g id="l3r3p3" transform="translate(766,815)">
<use href="#gr3"/>
<g class="connectors">
<line class="s" x1="0" y1="0" x2="-69" y2="42"/>
<line class="s" x1="0" y1="0" x2="69" y2="42"/>
<line class="s" x1="-69" y1="42" x2="-103" y2="82"/>
<line class="s" x1="-69" y1="42" x2="-35" y2="82"/>
<line class="s" x1="69" y1="42" x2="35" y2="82"/>
<line class="s" x1="69" y1="42" x2="103" y2="82"/>
<line class="s" x1="-103" y1="82" x2="-120" y2="122"/>
<line class="s" x1="-103" y1="82" x2="-86" y2="122"/>
<line class="s" x1="-35" y1="82" x2="-52" y2="122"/>
<line class="s" x1="-35" y1="82" x2="-18" y2="122"/>
<line class="s" x1="35" y1="82" x2="18" y2="122"/>
<line class="s" x1="35" y1="82" x2="52" y2="122"/>
<line class="d" x1="103" y1="82" x2="86" y2="122"/>
<line class="d" x1="103" y1="82" x2="120" y2="122"/>
</g>
<g id="l3r3p3-A" class="n g"><circle r="10"/><text>A</text></g>
<g id="l3r3p3-B" class="n b" transform="translate(-69,42)"><circle r="10"/></g>
<g id="l3r3p3-C" class="n g" transform="translate(69,42)"><circle r="10"/><text>C</text></g>
<g id="l3r3p3-D" class="n b" transform="translate(-103,82)"><circle r="10"/></g>
<g id="l3r3p3-E" class="n b" transform="translate(-35,82)"><circle r="10"/></g>
<g id="l3r3p3-F" class="n g" transform="translate(35,82)"><circle r="10"/><text>F</text></g>
<g id="l3r3p3-G" class="n f" transform="translate(103,82)"><circle r="10"/><text>G</text></g>
<g id="l3r3p3-H" class="n b" transform="translate(-120,122)"><circle r="10"/></g>
<g id="l3r3p3-I" class="n b" transform="translate(-86,122)"><circle r="10"/></g>
<g id="l3r3p3-J" class="n b" transform="translate(-52,122)"><circle r="10"/></g>
<g id="l3r3p3-K" class="n b" transform="translate(-18,122)"><circle r="10"/></g>
<g id="l3r3p3-L" class="n f" transform="translate(18,122)"><circle r="10"/><text>L</text><polygon class="mk" points="-22,-4 -15,0 -22,4"/></g>
<g id="l3r3p3-M" class="n f" transform="translate(52,122)"><circle r="10"/><text>M</text></g>
<g id="l3r3p3-N" class="n u" transform="translate(86,122)"><circle r="10"/><text>N</text></g>
<g id="l3r3p3-O" class="n u" transform="translate(120,122)"><circle r="10"/><text>O</text></g>
</g>

<g id="l3r3p4" transform="translate(1052.5,815)">
<use href="#gr3"/>
<g class="connectors">
<line class="s" x1="0" y1="0" x2="-69" y2="42"/>
<line class="s" x1="0" y1="0" x2="69" y2="42"/>
<line class="s" x1="-69" y1="42" x2="-103" y2="82"/>
<line class="s" x1="-69" y1="42" x2="-35" y2="82"/>
<line class="s" x1="69" y1="42" x2="35" y2="82"/>
<line class="s" x1="69" y1="42" x2="103" y2="82"/>
<line class="s" x1="-103" y1="82" x2="-120" y2="122"/>
<line class="s" x1="-103" y1="82" x2="-86" y2="122"/>
<line class="s" x1="-35" y1="82" x2="-52" y2="122"/>
<line class="s" x1="-35" y1="82" x2="-18" y2="122"/>
<line class="s" x1="35" y1="82" x2="18" y2="122"/>
<line class="s" x1="35" y1="82" x2="52" y2="122"/>
<line class="d" x1="103" y1="82" x2="86" y2="122"/>
<line class="d" x1="103" y1="82" x2="120" y2="122"/>
</g>
<g id="l3r3p4-A" class="n g"><circle r="10"/><text>A</text></g>
<g id="l3r3p4-B" class="n b" transform="translate(-69,42)"><circle r="10"/></g>
<g id="l3r3p4-C" class="n g" transform="translate(69,42)"><circle r="10"/><text>C</text></g>
<g id="l3r3p4-D" class="n b" transform="translate(-103,82)"><circle r="10"/></g>
<g id="l3r3p4-E" class="n b" transform="translate(-35,82)"><circle r="10"/></g>
<g id="l3r3p4-F" class="n g" transform="translate(35,82)"><circle r="10"/><text>F</text></g>
<g id="l3r3p4-G" class="n f" transform="translate(103,82)"><circle r="10"/><text>G</text></g>
<g id="l3r3p4-H" class="n b" transform="translate(-120,122)"><circle r="10"/></g>
<g id="l3r3p4-I" class="n b" transform="translate(-86,122)"><circle r="10"/></g>
<g id="l3r3p4-J" class="n b" transform="translate(-52,122)"><circle r="10"/></g>
<g id="l3r3p4-K" class="n b" transform="translate(-18,122)"><circle r="10"/></g>
<g id="l3r3p4-L" class="n b" transform="translate(18,122)"><circle r="10"/></g>
<g id="l3r3p4-M" class="n f" transform="translate(52,122)"><circle r="10"/><text>M</text><polygon class="mk" points="-22,-4 -15,0 -22,4"/></g>
<g id="l3r3p4-N" class="n u" transform="translate(86,122)"><circle r="10"/><text>N</text></g>
<g id="l3r3p4-O" class="n u" transform="translate(120,122)"><circle r="10"/><text>O</text></g>
</g>
</svg>
